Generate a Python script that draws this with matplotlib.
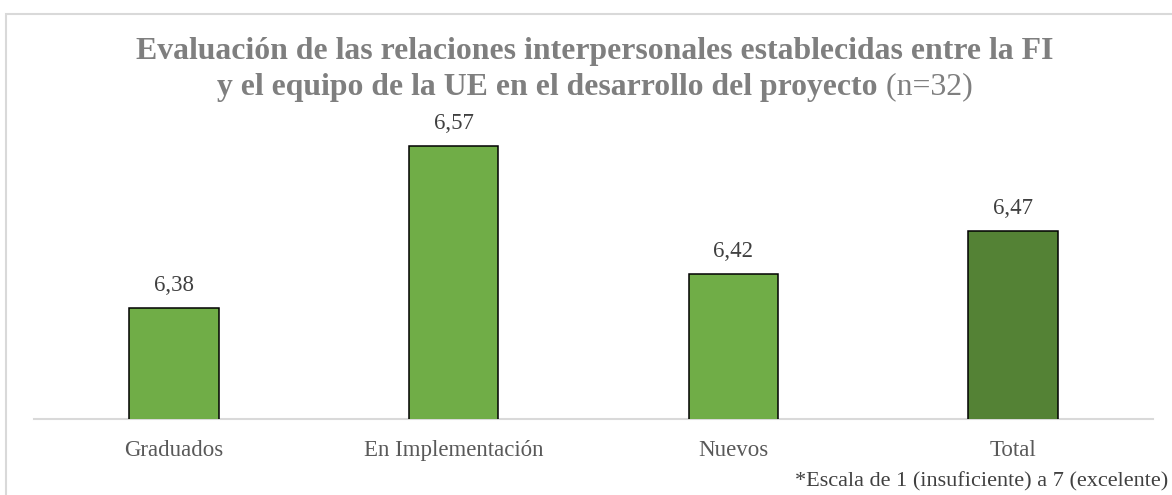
import matplotlib
matplotlib.use("Agg")
import matplotlib.pyplot as plt
from matplotlib.patches import Rectangle

categories = ["Graduados", "En Implementación", "Nuevos", "Total"]
values = [6.38, 6.57, 6.42, 6.47]
value_labels = ["6,38", "6,57", "6,42", "6,47"]
bar_colors = ["#70AD47", "#70AD47", "#70AD47", "#548235"]
title_line1 = "Evaluación de las relaciones interpersonales establecidas entre la FI"
title_line2_bold = "y el equipo de la UE en el desarrollo del proyecto"
title_line2_reg = " (n=32)"
footnote = "*Escala de 1 (insuficiente) a 7 (excelente)"

W, H = 1172, 495
fig = plt.figure(figsize=(W / 100, H / 100), dpi=100)
serif = ["Liberation Serif", "DejaVu Serif"]

# outer chart border (extends beyond right and bottom edges)
fig.patches.append(Rectangle((6 / W, -0.2), 1.2, 1.2 - 14 / H, transform=fig.transFigure,
                             fill=False, edgecolor="#D9D9D9", linewidth=1.5))

ax = fig.add_axes([34 / W, (H - 419) / H, (1153 - 34) / W, 299 / H])
x = range(len(categories))
ax.bar(x, values, width=0.32, color=bar_colors, edgecolor="black", linewidth=1.1, zorder=3)
ax.set_ylim(6.25, 6.6)
ax.set_xlim(-0.5, len(categories) - 0.5)
for s in ["top", "left", "right"]:
    ax.spines[s].set_visible(False)
ax.spines["bottom"].set_color("#D9D9D9")
ax.spines["bottom"].set_linewidth(1.5)
ax.set_yticks([])
ax.set_xticks(list(x))
ax.set_xticklabels(categories, fontfamily=serif, fontsize=16.5, color="#595959")
ax.tick_params(axis="x", length=0, pad=15)

for xi, v, lab in zip(x, values, value_labels):
    ax.annotate(lab, (xi, v), xytext=(0, 16), textcoords="offset points",
                ha="center", va="center", fontfamily=serif, fontsize=16.5, color="#404040")

renderer = fig.canvas.get_renderer()
t1 = fig.text(595 / W, 1 - 52 / H, title_line1, ha="center", va="center",
              fontfamily=serif, fontweight="bold", fontsize=20, color="#7F7F7F")
w = t1.get_window_extent(renderer).width
fs = 20 * 917 / w
t1.set_fontsize(fs)

t2a = fig.text(0, 1 - 87 / H, title_line2_bold, ha="left", va="center",
               fontfamily=serif, fontweight="bold", fontsize=fs, color="#7F7F7F")
t2b = fig.text(0, 1 - 87 / H, title_line2_reg, ha="left", va="center",
               fontfamily=serif, fontsize=fs, color="#7F7F7F")
wa = t2a.get_window_extent(renderer).width
wb = t2b.get_window_extent(renderer).width
start = 595 - (wa + wb) / 2
t2a.set_x(start / W)
t2b.set_x((start + wa) / W)

fig.text(1168 / W, 1 - 482 / H, footnote, ha="right", va="center",
         fontfamily=serif, fontsize=16, color="#404040")

fig.savefig("out.png", dpi=100, facecolor="white")
